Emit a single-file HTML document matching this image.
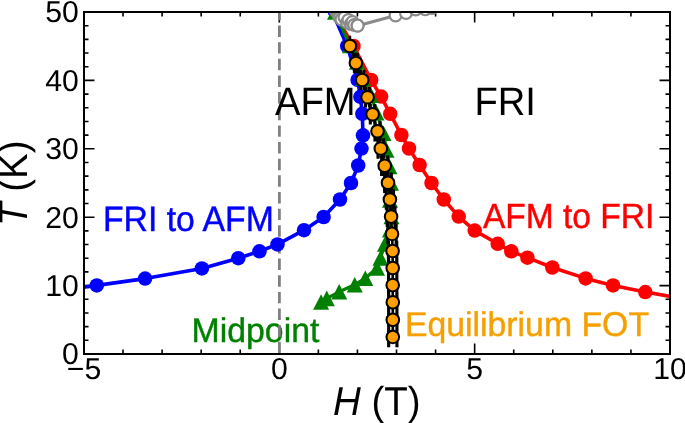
<!DOCTYPE html>
<html><head><meta charset="utf-8"><style>
html,body{margin:0;padding:0;background:#fff;overflow:hidden}
svg{display:block;will-change:transform;text-rendering:geometricPrecision}
</style></head><body>
<svg width="685" height="423" viewBox="0 0 685 423">
<defs><clipPath id="pc"><rect x="84" y="12" width="586" height="342"/></clipPath></defs>
<path d="M83.95,354v-10.5M83.95,12v10.5M123.02,354v-4.5M123.02,12v4.5M162.09,354v-4.5M162.09,12v4.5M201.16,354v-4.5M201.16,12v4.5M240.23,354v-4.5M240.23,12v4.5M279.30,354v-10.5M279.30,12v10.5M318.37,354v-4.5M318.37,12v4.5M357.44,354v-4.5M357.44,12v4.5M396.51,354v-4.5M396.51,12v4.5M435.58,354v-4.5M435.58,12v4.5M474.65,354v-10.5M474.65,12v10.5M513.72,354v-4.5M513.72,12v4.5M552.79,354v-4.5M552.79,12v4.5M591.86,354v-4.5M591.86,12v4.5M630.93,354v-4.5M630.93,12v4.5M670.00,354v-10.5M670.00,12v10.5M84,354.00h10.5M670,354.00h-10.5M84,340.32h4.5M670,340.32h-4.5M84,326.64h4.5M670,326.64h-4.5M84,312.96h4.5M670,312.96h-4.5M84,299.28h4.5M670,299.28h-4.5M84,285.60h10.5M670,285.60h-10.5M84,271.92h4.5M670,271.92h-4.5M84,258.24h4.5M670,258.24h-4.5M84,244.56h4.5M670,244.56h-4.5M84,230.88h4.5M670,230.88h-4.5M84,217.20h10.5M670,217.20h-10.5M84,203.52h4.5M670,203.52h-4.5M84,189.84h4.5M670,189.84h-4.5M84,176.16h4.5M670,176.16h-4.5M84,162.48h4.5M670,162.48h-4.5M84,148.80h10.5M670,148.80h-10.5M84,135.12h4.5M670,135.12h-4.5M84,121.44h4.5M670,121.44h-4.5M84,107.76h4.5M670,107.76h-4.5M84,94.08h4.5M670,94.08h-4.5M84,80.40h10.5M670,80.40h-10.5M84,66.72h4.5M670,66.72h-4.5M84,53.04h4.5M670,53.04h-4.5M84,39.36h4.5M670,39.36h-4.5M84,25.68h4.5M670,25.68h-4.5M84,12.00h10.5M670,12.00h-10.5" stroke="#000" stroke-width="1.6" fill="none"/>
<g clip-path="url(#pc)">
<g font-family="Liberation Sans, sans-serif">
<text transform="translate(191.6,341.6) scale(1,1.015)" font-size="33.8" fill="#008000" stroke="#008000" stroke-width="0.4">Midpoint</text>
</g>
<line x1="279.4" y1="8.85" x2="279.4" y2="354" stroke="#808080" stroke-width="2.8" stroke-dasharray="11.45 5.2"/>
<g font-family="Liberation Sans, sans-serif">
<text transform="translate(275,114.5) scale(1,1.04)" font-size="38.2" fill="#000">AFM</text>
<text transform="translate(474.4,114.6) scale(1,1.04)" font-size="38.2" fill="#000">FRI</text>
<text transform="translate(102.9,230.7) scale(1,1.04)" font-size="33.8" fill="#0000ff" stroke="#0000ff" stroke-width="0.4">FRI to AFM</text>
<text transform="translate(482.9,227.8) scale(1,1.04)" font-size="33.55" fill="#ff0000" stroke="#ff0000" stroke-width="0.4">AFM to FRI</text>
<text transform="translate(404.9,336) scale(1,1.015)" font-size="33.8" fill="#f5a000" stroke="#f5a000" stroke-width="0.4">Equilibrium FOT</text>
</g>
<polyline points="40.0,293.0 96.8,285.4 145.1,278.6 201.9,268.4 238.3,258.2 259.5,251.3 277.5,244.4 304.0,230.2 323.6,217.0 340.0,199.5 351.0,183.0 358.2,165.5 361.5,148.6 363.0,135.3 362.3,113.8 360.4,96.8 357.6,79.9 347.2,46.0 337.6,24.0 333.6,13.5 331.0,8.0" fill="none" stroke="#0000ff" stroke-width="3.6" stroke-linejoin="round"/>
<circle cx="96.8" cy="285.4" r="7.25" fill="#0000ff"/>
<circle cx="145.1" cy="278.6" r="7.25" fill="#0000ff"/>
<circle cx="201.9" cy="268.4" r="7.25" fill="#0000ff"/>
<circle cx="238.3" cy="258.2" r="7.25" fill="#0000ff"/>
<circle cx="259.5" cy="251.3" r="7.25" fill="#0000ff"/>
<circle cx="277.5" cy="244.4" r="7.25" fill="#0000ff"/>
<circle cx="304" cy="230.2" r="7.25" fill="#0000ff"/>
<circle cx="323.6" cy="217" r="7.25" fill="#0000ff"/>
<circle cx="340" cy="199.5" r="7.25" fill="#0000ff"/>
<circle cx="351" cy="183" r="7.25" fill="#0000ff"/>
<circle cx="358.2" cy="165.5" r="7.25" fill="#0000ff"/>
<circle cx="361.5" cy="148.6" r="7.25" fill="#0000ff"/>
<circle cx="363" cy="135.3" r="7.25" fill="#0000ff"/>
<circle cx="362.3" cy="113.8" r="7.25" fill="#0000ff"/>
<circle cx="360.4" cy="96.8" r="7.25" fill="#0000ff"/>
<circle cx="357.6" cy="79.9" r="7.25" fill="#0000ff"/>
<circle cx="347.2" cy="46" r="7.25" fill="#0000ff"/>
<polyline points="328.0,8.0 331.5,13.0 341.0,25.0 353.5,46.0 371.2,80.0 381.1,96.6 390.2,113.8 401.4,135.0 409.0,148.5 419.6,165.0 431.5,183.0 443.8,199.5 458.7,216.6 474.7,230.6 497.7,243.8 511.3,251.3 527.4,257.7 552.3,267.5 585.6,278.4 613.0,285.4 645.3,292.1 700.0,301.5" fill="none" stroke="#ff0000" stroke-width="3.6" stroke-linejoin="round"/>
<circle cx="353.5" cy="46" r="7.25" fill="#ff0000"/>
<circle cx="371.2" cy="80" r="7.25" fill="#ff0000"/>
<circle cx="381.1" cy="96.6" r="7.25" fill="#ff0000"/>
<circle cx="390.2" cy="113.8" r="7.25" fill="#ff0000"/>
<circle cx="401.4" cy="135" r="7.25" fill="#ff0000"/>
<circle cx="409" cy="148.5" r="7.25" fill="#ff0000"/>
<circle cx="419.6" cy="165" r="7.25" fill="#ff0000"/>
<circle cx="431.5" cy="183" r="7.25" fill="#ff0000"/>
<circle cx="443.8" cy="199.5" r="7.25" fill="#ff0000"/>
<circle cx="458.7" cy="216.6" r="7.25" fill="#ff0000"/>
<circle cx="474.7" cy="230.6" r="7.25" fill="#ff0000"/>
<circle cx="497.7" cy="243.8" r="7.25" fill="#ff0000"/>
<circle cx="511.3" cy="251.3" r="7.25" fill="#ff0000"/>
<circle cx="527.4" cy="257.7" r="7.25" fill="#ff0000"/>
<circle cx="552.3" cy="267.5" r="7.25" fill="#ff0000"/>
<circle cx="585.6" cy="278.4" r="7.25" fill="#ff0000"/>
<circle cx="613" cy="285.4" r="7.25" fill="#ff0000"/>
<circle cx="645.3" cy="292.1" r="7.25" fill="#ff0000"/>
<path d="M331.5,18L327,9" stroke="#0000ff" stroke-width="2.4"/><path d="M333,17L328.8,9" stroke="#ff0000" stroke-width="2.2"/>
<polyline points="334.0,12.0 341.0,26.0 350.0,45.5 357.0,62.0 363.0,78.3 371.0,95.2 376.5,112.8 383.5,133.2 386.5,150.0 389.5,166.5 391.0,183.0 390.0,200.0 391.5,216.5 390.0,229.6 385.0,244.0 380.5,258.0 377.0,268.0 365.3,278.2 354.7,284.8 339.2,291.8 326.8,298.4 321.1,302.0" fill="none" stroke="#008000" stroke-width="3.2" stroke-linejoin="round"/>
<path d="M331,12.3 L334.8,19.7 L327,19.7 Z" fill="#008000"/>
<path d="M350.0,37.7 L358.0,53.3 L342.0,53.3 Z" fill="#008000"/>
<path d="M357.0,54.2 L365.0,69.8 L349.0,69.8 Z" fill="#008000"/>
<path d="M363.0,70.5 L371.0,86.1 L355.0,86.1 Z" fill="#008000"/>
<path d="M371.0,87.4 L379.0,103.0 L363.0,103.0 Z" fill="#008000"/>
<path d="M376.5,105.0 L384.5,120.6 L368.5,120.6 Z" fill="#008000"/>
<path d="M383.5,125.4 L391.5,141.0 L375.5,141.0 Z" fill="#008000"/>
<path d="M386.5,142.2 L394.5,157.8 L378.5,157.8 Z" fill="#008000"/>
<path d="M389.5,158.7 L397.5,174.3 L381.5,174.3 Z" fill="#008000"/>
<path d="M391.0,175.2 L399.0,190.8 L383.0,190.8 Z" fill="#008000"/>
<path d="M390.0,192.2 L398.0,207.8 L382.0,207.8 Z" fill="#008000"/>
<path d="M391.5,208.7 L399.5,224.3 L383.5,224.3 Z" fill="#008000"/>
<path d="M390.0,221.8 L398.0,237.4 L382.0,237.4 Z" fill="#008000"/>
<path d="M385.0,236.2 L393.0,251.8 L377.0,251.8 Z" fill="#008000"/>
<path d="M380.5,250.2 L388.5,265.8 L372.5,265.8 Z" fill="#008000"/>
<path d="M377.0,260.2 L385.0,275.8 L369.0,275.8 Z" fill="#008000"/>
<path d="M365.3,270.4 L373.3,286.0 L357.3,286.0 Z" fill="#008000"/>
<path d="M354.7,277.0 L362.7,292.6 L346.7,292.6 Z" fill="#008000"/>
<path d="M339.2,284.0 L347.2,299.6 L331.2,299.6 Z" fill="#008000"/>
<path d="M326.8,290.6 L334.8,306.2 L318.8,306.2 Z" fill="#008000"/>
<path d="M321.1,294.2 L329.1,309.8 L313.1,309.8 Z" fill="#008000"/>
<polyline points="349.9,35.7 349.9,46.0 355.9,63.0 362.2,80.0 367.6,97.2 372.6,114.3 377.5,131.3 380.8,148.5 384.7,165.7 388.0,182.8 389.9,199.5 391.1,216.6 392.0,233.9 392.6,251.0 392.7,268.0 392.7,285.1 392.8,302.3 392.8,319.8 392.8,336.9" fill="none" stroke="#000" stroke-width="2.6"/>
<path d="M354.43,52.7V73.3M357.37,52.7V73.3M360.47,69.7V90.3M363.93,69.7V90.3M365.60,86.9V107.5M369.60,86.9V107.5M370.33,104.0V124.6M374.87,104.0V124.6M374.96,121.0V141.6M380.04,121.0V141.6M377.99,138.2V158.8M383.61,138.2V158.8M381.62,155.4V176.0M387.78,155.4V176.0M384.65,172.5V193.1M391.35,172.5V193.1M386.29,189.2V209.8M393.51,189.2V209.8M387.22,206.3V226.9M394.98,206.3V226.9M387.85,223.6V244.2M396.15,223.6V244.2M388.45,240.7V261.3M396.75,240.7V261.3M388.55,257.7V278.3M396.85,257.7V278.3M388.55,274.8V295.4M396.85,274.8V295.4M388.65,292.0V312.6M396.95,292.0V312.6M388.65,309.5V330.1M396.95,309.5V330.1M388.65,326.6V347.2M396.95,326.6V347.2" stroke="#000" stroke-width="3.1" fill="none"/>
<circle cx="349.9" cy="46" r="6.3" fill="#ffa000" stroke="#000" stroke-width="2.05"/>
<circle cx="355.9" cy="63" r="6.3" fill="#ffa000" stroke="#000" stroke-width="2.05"/>
<circle cx="362.2" cy="80" r="6.3" fill="#ffa000" stroke="#000" stroke-width="2.05"/>
<circle cx="367.6" cy="97.2" r="6.3" fill="#ffa000" stroke="#000" stroke-width="2.05"/>
<circle cx="372.6" cy="114.3" r="6.3" fill="#ffa000" stroke="#000" stroke-width="2.05"/>
<circle cx="377.5" cy="131.3" r="6.3" fill="#ffa000" stroke="#000" stroke-width="2.05"/>
<circle cx="380.8" cy="148.5" r="6.3" fill="#ffa000" stroke="#000" stroke-width="2.05"/>
<circle cx="384.7" cy="165.7" r="6.3" fill="#ffa000" stroke="#000" stroke-width="2.05"/>
<circle cx="388" cy="182.8" r="6.3" fill="#ffa000" stroke="#000" stroke-width="2.05"/>
<circle cx="389.9" cy="199.5" r="6.3" fill="#ffa000" stroke="#000" stroke-width="2.05"/>
<circle cx="391.1" cy="216.6" r="6.3" fill="#ffa000" stroke="#000" stroke-width="2.05"/>
<circle cx="392" cy="233.9" r="6.3" fill="#ffa000" stroke="#000" stroke-width="2.05"/>
<circle cx="392.6" cy="251" r="6.3" fill="#ffa000" stroke="#000" stroke-width="2.05"/>
<circle cx="392.7" cy="268" r="6.3" fill="#ffa000" stroke="#000" stroke-width="2.05"/>
<circle cx="392.7" cy="285.1" r="6.3" fill="#ffa000" stroke="#000" stroke-width="2.05"/>
<circle cx="392.8" cy="302.3" r="6.3" fill="#ffa000" stroke="#000" stroke-width="2.05"/>
<circle cx="392.8" cy="319.8" r="6.3" fill="#ffa000" stroke="#000" stroke-width="2.05"/>
<circle cx="392.8" cy="336.9" r="6.3" fill="#ffa000" stroke="#000" stroke-width="2.05"/>
<polyline points="357.6,25.7 395.6,15.5 406.0,13.0 415.6,9.5 425.3,9.3 432.0,8.0 440.0,6.0" fill="none" stroke="#8a8a8a" stroke-width="3.2"/>
<circle cx="335.5" cy="10.5" r="5.95" fill="#b8b8b8" stroke="#8a8a8a" stroke-width="2.2"/>
<circle cx="338" cy="13.5" r="5.95" fill="#b8b8b8" stroke="#8a8a8a" stroke-width="2.2"/>
<circle cx="339.5" cy="17.5" r="5.95" fill="#b8b8b8" stroke="#8a8a8a" stroke-width="2.2"/>
<circle cx="341.5" cy="19.5" r="5.95" fill="#fff" stroke="#8a8a8a" stroke-width="2.2"/>
<circle cx="344.5" cy="17.5" r="5.95" fill="#fff" stroke="#8a8a8a" stroke-width="2.2"/>
<circle cx="347" cy="22.5" r="5.95" fill="#fff" stroke="#8a8a8a" stroke-width="2.2"/>
<circle cx="348.5" cy="20" r="5.95" fill="#fff" stroke="#8a8a8a" stroke-width="2.2"/>
<circle cx="350.8" cy="24" r="5.95" fill="#fff" stroke="#8a8a8a" stroke-width="2.2"/>
<circle cx="352.5" cy="22" r="5.95" fill="#fff" stroke="#8a8a8a" stroke-width="2.2"/>
<circle cx="354.2" cy="25" r="5.95" fill="#fff" stroke="#8a8a8a" stroke-width="2.2"/>
<circle cx="357.5" cy="25.5" r="5.95" fill="#fff" stroke="#8a8a8a" stroke-width="2.2"/>
<circle cx="357.6" cy="25.7" r="5.95" fill="#fff" stroke="#8a8a8a" stroke-width="2.2"/>
<circle cx="395.6" cy="15.5" r="5.95" fill="#fff" stroke="#8a8a8a" stroke-width="2.2"/>
<circle cx="406" cy="13" r="5.95" fill="#fff" stroke="#8a8a8a" stroke-width="2.2"/>
<circle cx="415.6" cy="9.5" r="5.95" fill="#fff" stroke="#8a8a8a" stroke-width="2.2"/>
<circle cx="425.3" cy="9.3" r="5.95" fill="#fff" stroke="#8a8a8a" stroke-width="2.2"/>
<circle cx="432" cy="8" r="5.95" fill="#fff" stroke="#8a8a8a" stroke-width="2.2"/>
<circle cx="440" cy="6" r="5.95" fill="#fff" stroke="#8a8a8a" stroke-width="2.2"/>
</g>
<rect x="84" y="12" width="586" height="342" fill="none" stroke="#000" stroke-width="2"/>
<g font-family="Liberation Sans, sans-serif" font-size="30.2" fill="#000">
<text transform="translate(78.8,364.30)" text-anchor="end">0</text>
<text transform="translate(78.8,295.90)" text-anchor="end">10</text>
<text transform="translate(78.8,227.50)" text-anchor="end">20</text>
<text transform="translate(78.8,159.10)" text-anchor="end">30</text>
<text transform="translate(78.8,90.70)" text-anchor="end">40</text>
<text transform="translate(78.8,22.30)" text-anchor="end">50</text>
<text transform="translate(83.95,379.2)" text-anchor="middle">−5</text>
<text transform="translate(279.30,379.2)" text-anchor="middle">0</text>
<text transform="translate(474.65,379.2)" text-anchor="middle">5</text>
<text transform="translate(670.00,379.2)" text-anchor="middle">10</text>
</g>
<g font-family="Liberation Sans, sans-serif" font-size="38.5" fill="#000">
<text transform="translate(333,415) scale(1,1.045)"><tspan font-style="italic">H</tspan> (T)</text>
<text transform="translate(26.8,226) rotate(-90) scale(1,1.045)"><tspan font-style="italic">T</tspan> (K)</text>
</g>
</svg>
</body></html>
